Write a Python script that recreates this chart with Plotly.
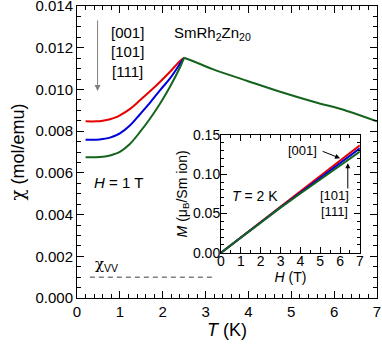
import plotly.graph_objects as go

# main panel: susceptibility vs temperature, H = 1 T
t_low = [0.2, 0.45, 0.6, 0.77, 0.9, 1.0, 1.24, 1.47, 1.71, 1.94, 2.17, 2.41, 2.5]
chi_001 = [0.00847, 0.00847, 0.00850, 0.00857, 0.00866, 0.00876, 0.00907, 0.00948, 0.00992, 0.01037, 0.01085, 0.01138, 0.01152]
chi_101 = [0.00759, 0.00759, 0.00762, 0.00769, 0.00779, 0.00789, 0.00828, 0.00881, 0.00938, 0.00997, 0.01053, 0.01125, 0.01152]
chi_111 = [0.00675, 0.00675, 0.00677, 0.00683, 0.00692, 0.00701, 0.00740, 0.00796, 0.00862, 0.00933, 0.01013, 0.01109, 0.01152]
t_high = [2.5, 2.8, 3.18, 3.96, 4.74, 5.52, 6.3, 7.0]
chi_high = [0.01152, 0.01128, 0.01096, 0.01042, 0.00989, 0.00941, 0.00897, 0.00847]
t_vv = [0.3, 3.2]
chi_vv = [0.001, 0.001]

# inset: magnetization vs field, T = 2 K
h_field = [0, 1, 2, 3, 4, 5, 6, 7]
m_001 = [0, 0.0195, 0.039, 0.0585, 0.078, 0.098, 0.118, 0.137]
m_101 = [0, 0.0195, 0.039, 0.058, 0.0765, 0.095, 0.114, 0.133]
m_111 = [0, 0.0195, 0.0385, 0.0575, 0.0755, 0.093, 0.111, 0.129]

RED = 'rgb(230,0,0)'
BLUE = 'rgb(0,0,220)'
GREEN = 'rgb(20,100,30)'
FONT = 'Liberation Sans, Arial, sans-serif'
CHI = '<span style="font-family:DejaVu Serif">χ</span>'

fig = go.Figure()

for y, c in [(chi_001, RED), (chi_101, BLUE), (chi_111, GREEN)]:
    fig.add_trace(go.Scatter(x=t_low, y=y, mode='lines',
                             line=dict(color=c, width=2, shape='spline', smoothing=1.0)))
fig.add_trace(go.Scatter(x=t_high, y=chi_high, mode='lines', line=dict(color=GREEN, width=2, shape='spline')))
fig.add_trace(go.Scatter(x=t_vv, y=chi_vv, mode='lines', line=dict(color='gray', width=1.5, dash='5px,4px')))

for y, c in [(m_001, RED), (m_101, BLUE), (m_111, GREEN)]:
    fig.add_trace(go.Scatter(x=h_field, y=y, mode='lines', line=dict(color=c, width=2),
                             xaxis='x2', yaxis='y2'))

axis_common = dict(showline=True, linecolor='black', linewidth=1, mirror='ticks', ticks='inside',
                   tickcolor='black', showgrid=False, zeroline=False, automargin=False,
                   ticklabeloverflow='allow')

fig.update_layout(
    width=382, height=344,
    margin=dict(l=77, r=5, t=6, b=46),
    paper_bgcolor='white', plot_bgcolor='white',
    showlegend=False,
    font=dict(family=FONT, size=15, color='black'),
    xaxis=dict(range=[0, 7.0001], dtick=1, ticklen=7,
               minor=dict(dtick=0.2, ticklen=4, ticks='inside', tickcolor='black'),
               title=dict(text='<i>T</i> (K)', standoff=4), **axis_common),
    yaxis=dict(range=[0, 0.014001], dtick=0.002, tickformat='.3f', ticklen=7,
               minor=dict(dtick=0.0005, ticklen=4, ticks='inside', tickcolor='black'),
               title=dict(text=CHI + ' (mol/emu)', standoff=6), **axis_common),
    xaxis2=dict(domain=[0.48, 0.943], anchor='y2', range=[0, 7.0001], dtick=1, ticklen=6,
                minor=dict(dtick=0.5, ticklen=3, ticks='inside', tickcolor='black'),
                tickfont=dict(size=14), ticklabelstandoff=-5,
                title=dict(text='<i>H</i> (T)', standoff=0, font=dict(size=14)), **axis_common),
    yaxis2=dict(domain=[0.155, 0.558], anchor='x2', range=[0, 0.15001], dtick=0.05, tickformat='.2f',
                ticklen=6, minor=dict(dtick=0.01, ticklen=3, ticks='inside', tickcolor='black'),
                tickfont=dict(size=14), ticklabelstandoff=-3,
                title=dict(text='<i>M</i> (μ<sub>B</sub>/Sm ion)', standoff=2, font=dict(size=14)),
                **axis_common),
)

ann = [
    dict(x=3.15, y=0.0127, text='SmRh<sub>2</sub>Zn<sub>20</sub>'),
    dict(x=1.17, y=0.01274, text='[001]'),
    dict(x=1.17, y=0.01181, text='[101]'),
    dict(x=1.17, y=0.01085, text='[111]'),
    dict(x=0.34, y=0.00553, text='<i>H</i> = 1 T', xanchor='left'),
    dict(x=0.37, y=0.0016, text=CHI + '<sub>VV</sub>', xanchor='left'),
]
for a in ann:
    fig.add_annotation(showarrow=False, xref='x', yref='y', **a)

fig.add_annotation(x=0.48, y=0.00992, ax=0.48, ay=0.01338, xref='x', yref='y', axref='x', ayref='y',
                   text='', showarrow=True, arrowhead=2, arrowsize=1.2, arrowwidth=1, arrowcolor='gray')

ann2 = [
    dict(x=0.45, y=0.0726, text='<i>T</i> = 2 K', xanchor='left', font=dict(size=14)),
    dict(x=4.13, y=0.130, text='[001]', font=dict(size=13)),
    dict(x=5.74, y=0.0735, text='[101]', font=dict(size=13)),
    dict(x=5.74, y=0.053, text='[111]', font=dict(size=13)),
]
for a in ann2:
    fig.add_annotation(showarrow=False, xref='x2', yref='y2', **a)

fig.add_annotation(x=6.0, y=0.1205, ax=5.05, ay=0.130, xref='x2', yref='y2', axref='x2', ayref='y2',
                   text='', showarrow=True, arrowhead=2, arrowsize=1, arrowwidth=1, arrowcolor='black')
fig.add_annotation(x=6.39, y=0.114, ax=6.39, ay=0.080, xref='x2', yref='y2', axref='x2', ayref='y2',
                   text='', showarrow=True, arrowhead=2, arrowsize=1, arrowwidth=1, arrowcolor='black')

fig.write_html('out.html', config={'displayModeBar': False},
               post_script="document.body.style.margin='0';")
